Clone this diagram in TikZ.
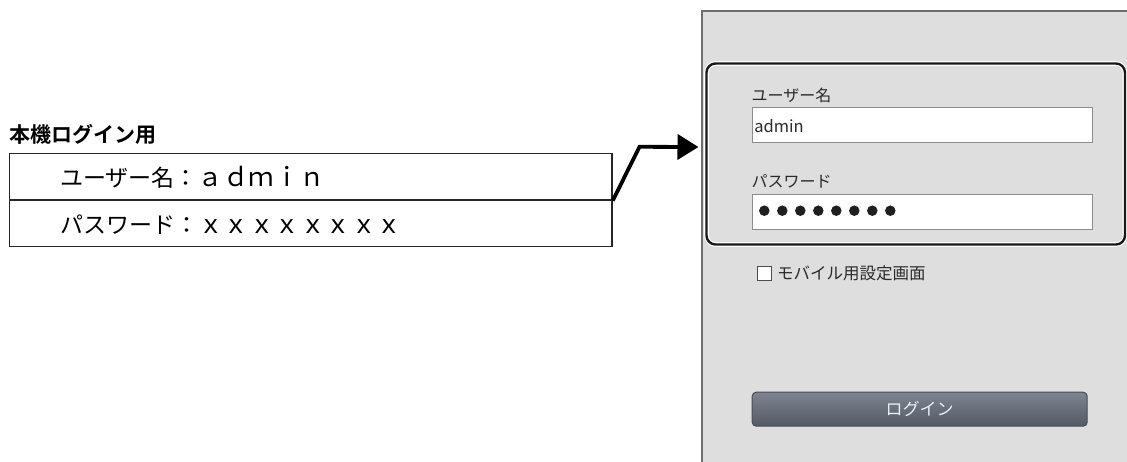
\documentclass[tikz,border=0pt]{standalone}
\usepackage{fontspec}
\newfontfamily\jp{Noto Sans CJK JP}[BoldFont={Noto Sans CJK JP Bold}]
\usetikzlibrary{arrows.meta}
\definecolor{panelfill}{HTML}{DEDEDE}
\definecolor{panelline}{HTML}{6E6E6E}
\definecolor{fieldline}{HTML}{8C8C8C}
\definecolor{uitext}{HTML}{2A2A2A}
\definecolor{btntop}{HTML}{7E8490}
\definecolor{btnbottom}{HTML}{535A64}
\definecolor{btnline}{HTML}{474C54}
\definecolor{btntext}{HTML}{ECEEF4}
\tikzset{
  tablerow/.style={draw=black!85, line width=1.4pt, anchor=north west,
    minimum width=602.3pt, minimum height=46.6pt, inner sep=0pt},
  rowtext/.style={anchor=west, inner sep=0pt, font=\jp\fontsize{23}{23}\selectfont},
  uilabel/.style={anchor=west, inner sep=0pt, text=uitext, font=\jp\fontsize{16}{16}\selectfont},
  field/.style={draw=fieldline, line width=1.2pt, fill=white, anchor=north west,
    minimum width=340pt, minimum height=35pt, inner sep=0pt},
  pwdot/.style={circle, fill=black!88, minimum size=10.5pt, inner sep=0pt},
  linkarrow/.style={line width=3.8pt, line join=miter,
    -{Triangle[length=21pt,width=25pt]}},
}
\begin{document}
\begin{tikzpicture}[x=1pt,y=-1pt]
\useasboundingbox (0,0) rectangle (1127,461);

% ---- credentials table on the left ----
\node[anchor=west, inner sep=0pt, font=\jp\bfseries\fontsize{21}{21}\selectfont] (title) at (9.5,134) {本機ログイン用};
\node[tablerow] (rowuser) at (9,152.7) {};
\node[tablerow] (rowpass) at (9,199.3) {};
\node[rowtext] (usertext) at ([xshift=51pt,yshift=-1pt]rowuser.west) {ユーザー名：{\fontsize{25.5}{25.5}\selectfont ａｄｍｉｎ}};
\node[rowtext] (passtext) at ([xshift=51pt,yshift=-1pt]rowpass.west) {パスワード：{\fontsize{25.5}{25.5}\selectfont ｘｘｘｘｘｘｘｘ}};

% ---- login screen on the right ----
\begin{scope}
  \clip (0,0) rectangle (1127,461);
  \node[draw=panelline, line width=2pt, fill=panelfill, anchor=north west,
        minimum width=440pt, minimum height=470pt, inner sep=0pt] (panel) at (701,10) {};
\end{scope}

% highlighted credential block
\draw[white, line width=4.6pt, rounded corners=9pt] (706.5,63.5) rectangle (1125,244.5);
\draw[black!90, line width=2.4pt, rounded corners=9pt] (706.5,63.5) rectangle (1125,244.5);
\coordinate (blockwest) at (698.5,147);

\node[uilabel] (userlabel) at (751.5,95.5) {ユーザー名};
\node[field] (userfield) at (751.7,106.7) {};
\node[anchor=west, inner sep=0pt, text=uitext, font=\jp\fontsize{16.5}{16.5}\selectfont] (userval) at ([xshift=2.5pt,yshift=-1pt]userfield.west) {admin};

\node[uilabel] (passlabel) at (751.5,181.5) {パスワード};
\node[field] (passfield) at (751.7,194.2) {};
\foreach \i in {0,...,7}
  \node[pwdot] (dot\i) at (764.3+18*\i,210.7) {};

\node[draw=black!70, line width=1pt, fill=white, anchor=north west,
      minimum width=14pt, minimum height=13.5pt, inner sep=0pt] (mobilebox) at (757,266.3) {};
\node[uilabel, anchor=west, font=\jp\fontsize{16.5}{16.5}\selectfont] (mobiletext) at ([xshift=5pt]mobilebox.east) {モバイル用設定画面};

\node[draw=btnline, line width=1pt, rounded corners=4pt, top color=btntop, bottom color=btnbottom,
      anchor=north west, minimum width=335pt, minimum height=34pt, inner sep=0pt,
      text=btntext, font=\jp\fontsize{17}{17}\selectfont] (loginbtn) at (751.7,391.7) {ログイン};

% ---- connector from the table to the login block ----
\draw[linkarrow] (rowuser.south east) -- (639.5,146.8) -- (blockwest);
\end{tikzpicture}
\end{document}
